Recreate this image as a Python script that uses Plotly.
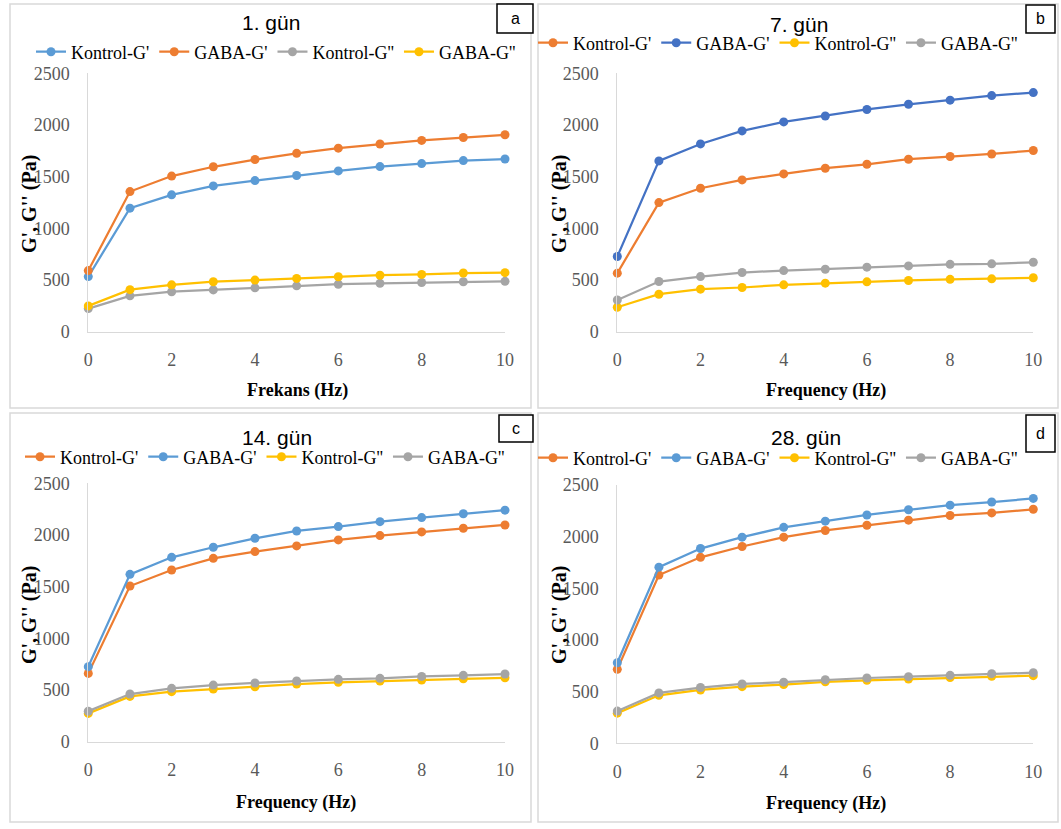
import plotly.graph_objects as go

W, H = 1061, 829

freq = [0, 1, 2, 3, 4, 5, 6, 7, 8, 9, 10]

# Panel a: 1. gün
a_kontrol_g1 = [532, 1194, 1323, 1410, 1461, 1510, 1555, 1597, 1626, 1655, 1670]
a_gaba_g1 = [590, 1355, 1505, 1595, 1665, 1725, 1775, 1815, 1850, 1878, 1905]
a_kontrol_g2 = [222, 345, 385, 403, 423, 442, 458, 466, 474, 482, 486]
a_gaba_g2 = [248, 405, 452, 482, 498, 514, 530, 545, 553, 566, 570]

# Panel b: 7. gün
b_kontrol_g1 = [565, 1248, 1387, 1468, 1526, 1581, 1619, 1668, 1694, 1719, 1752]
b_gaba_g1 = [726, 1652, 1816, 1942, 2029, 2087, 2150, 2200, 2240, 2284, 2313]
b_kontrol_g2 = [235, 361, 410, 426, 452, 468, 481, 494, 505, 510, 520]
b_gaba_g2 = [305, 484, 532, 571, 590, 603, 623, 635, 650, 655, 670]

# Panel c: 14. gün
c_kontrol_g1 = [661, 1506, 1661, 1774, 1839, 1894, 1952, 1994, 2030, 2065, 2097]
c_gaba_g1 = [726, 1619, 1784, 1881, 1968, 2039, 2081, 2129, 2168, 2205, 2240]
c_kontrol_g2 = [274, 438, 484, 510, 532, 558, 574, 587, 597, 608, 618]
c_gaba_g2 = [295, 461, 516, 548, 568, 587, 603, 613, 632, 642, 655]

# Panel d: 28. gün
d_kontrol_g1 = [716, 1629, 1800, 1905, 1995, 2060, 2110, 2160, 2205, 2230, 2265]
d_gaba_g1 = [780, 1705, 1885, 1995, 2090, 2150, 2210, 2260, 2305, 2335, 2370]
d_kontrol_g2 = [292, 465, 516, 548, 568, 595, 610, 622, 636, 648, 655]
d_gaba_g2 = [312, 488, 540, 574, 592, 615, 632, 645, 658, 674, 683]

titles = ["1. gün", "7. gün", "14. gün", "28. gün"]
x_titles = ["Frekans (Hz)", "Frequency (Hz)", "Frequency (Hz)", "Frequency (Hz)"]
y_title = "G', G'' (Pa)"
panel_letters = ["a", "b", "c", "d"]
x_ticks = [0, 2, 4, 6, 8, 10]
y_ticks = [0, 500, 1000, 1500, 2000, 2500]

BLUE = "#5B9BD5"
ORANGE = "#ED7D31"
GRAY = "#A5A5A5"
YELLOW = "#FFC000"
DBLUE = "#4472C4"

panels = [
    [("Kontrol-G'", a_kontrol_g1, BLUE), ("GABA-G'", a_gaba_g1, ORANGE),
     ("Kontrol-G''", a_kontrol_g2, GRAY), ("GABA-G''", a_gaba_g2, YELLOW)],
    [("Kontrol-G'", b_kontrol_g1, ORANGE), ("GABA-G'", b_gaba_g1, DBLUE),
     ("Kontrol-G''", b_kontrol_g2, YELLOW), ("GABA-G''", b_gaba_g2, GRAY)],
    [("Kontrol-G'", c_kontrol_g1, ORANGE), ("GABA-G'", c_gaba_g1, BLUE),
     ("Kontrol-G''", c_kontrol_g2, YELLOW), ("GABA-G''", c_gaba_g2, GRAY)],
    [("Kontrol-G'", d_kontrol_g1, ORANGE), ("GABA-G'", d_gaba_g1, BLUE),
     ("Kontrol-G''", d_kontrol_g2, YELLOW), ("GABA-G''", d_gaba_g2, GRAY)],
]


def px(x):
    return x / W


def py(y):
    return 1 - y / H


# layout geometry (pixels)
geo = [
    dict(x0=88.3, x1=505, y0=331.5, y1=73.3, title=(271, 23), leg=(276, 52),
         xt=(297, 390), yt=(29, 204), box=(497, 4, 533, 33), rect=(10, 4, 531, 408)),
    dict(x0=617.3, x1=1033.3, y0=331.5, y1=73.3, title=(799, 24), leg=(778, 43),
         xt=(826, 390), yt=(559, 204), box=(1026, 5, 1055, 33), rect=(538, 4, 1058, 408)),
    dict(x0=88.3, x1=505, y0=741.7, y1=483.3, title=(277, 437), leg=(265, 457),
         xt=(296, 802), yt=(29, 615), box=(499, 415, 533, 442), rect=(10, 413, 531, 822)),
    dict(x0=617.3, x1=1033.3, y0=743.3, y1=485, title=(806, 437), leg=(778, 458),
         xt=(826, 803), yt=(559, 615), box=(1026, 415, 1055, 452), rect=(538, 413, 1058, 822)),
]

fig = go.Figure()
layout = dict(width=W, height=H, margin=dict(l=0, r=0, t=0, b=0, autoexpand=False),
              paper_bgcolor="white", plot_bgcolor="white", showlegend=True)
annotations = []
shapes = []

SERIF = "Liberation Serif, Times New Roman, serif"

for i, (g, series) in enumerate(zip(geo, panels)):
    n = "" if i == 0 else str(i + 1)
    xa, ya = "x" + n, "y" + n
    leg = "legend" + n
    for name, vals, col in series:
        fig.add_trace(go.Scatter(
            x=freq, y=vals, name=name, mode="lines+markers",
            line=dict(color=col, width=2.25),
            marker=dict(color=col, size=9),
            xaxis=xa, yaxis=ya, legend=leg, cliponaxis=False))
    layout["xaxis" + n] = dict(
        domain=[px(g["x0"]), px(g["x1"])], range=[0, 10], anchor=ya,
        tickvals=x_ticks, showgrid=False, zeroline=False, showline=True,
        linecolor="#D9D9D9", linewidth=1, ticks="outside", ticklen=12,
        tickcolor="rgba(0,0,0,0)", tickfont=dict(family=SERIF, size=18, color="#595959"))
    layout["yaxis" + n] = dict(
        domain=[py(g["y0"]), py(g["y1"])], range=[0, 2500], anchor=xa,
        tickvals=y_ticks, showgrid=False, zeroline=False, showline=True,
        linecolor="#D9D9D9", linewidth=1, ticks="outside", ticklen=14,
        tickcolor="rgba(0,0,0,0)", tickfont=dict(family=SERIF, size=18, color="#595959"))
    layout[leg] = dict(
        orientation="h", xref="paper", yref="paper",
        x=px(g["leg"][0]), y=py(g["leg"][1]), xanchor="center", yanchor="middle",
        bgcolor="rgba(0,0,0,0)", font=dict(family=SERIF, size=18, color="black"),
        itemwidth=30, tracegroupgap=0)
    # panel border
    r = g["rect"]
    shapes.append(dict(type="rect", xref="paper", yref="paper",
                       x0=px(r[0]), x1=px(r[2]), y0=py(r[3]), y1=py(r[1]),
                       line=dict(color="#D9D9D9", width=1.5), layer="below"))
    # panel title
    annotations.append(dict(text=titles[i], xref="paper", yref="paper",
                            x=px(g["title"][0]), y=py(g["title"][1]),
                            xanchor="center", yanchor="middle", showarrow=False,
                            font=dict(family="Liberation Sans Narrow, Liberation Sans, Arial", size=21, color="black")))
    # axis titles
    annotations.append(dict(text="<b>" + x_titles[i] + "</b>", xref="paper", yref="paper",
                            x=px(g["xt"][0]), y=py(g["xt"][1]),
                            xanchor="center", yanchor="middle", showarrow=False,
                            font=dict(family=SERIF, size=18, color="black")))
    annotations.append(dict(text="<b>" + y_title + "</b>", xref="paper", yref="paper",
                            x=px(g["yt"][0]), y=py(g["yt"][1]), textangle=-90,
                            xanchor="center", yanchor="middle", showarrow=False,
                            font=dict(family=SERIF, size=20, color="black")))
    # letter box
    b = g["box"]
    shapes.append(dict(type="rect", xref="paper", yref="paper",
                       x0=px(b[0]), x1=px(b[2]), y0=py(b[3]), y1=py(b[1]),
                       line=dict(color="black", width=1.5), fillcolor="white", layer="above"))
    annotations.append(dict(text=panel_letters[i], xref="paper", yref="paper",
                            x=px((b[0] + b[2]) / 2), y=py((b[1] + b[3]) / 2),
                            xanchor="center", yanchor="middle", showarrow=False,
                            font=dict(family="Liberation Sans, Arial", size=16, color="black")))

layout["annotations"] = annotations
layout["shapes"] = shapes
fig.update_layout(**layout)
fig.write_html("out.html", config={"displayModeBar": False},
               post_script="document.body.style.margin='0';document.body.style.overflow='hidden';")
